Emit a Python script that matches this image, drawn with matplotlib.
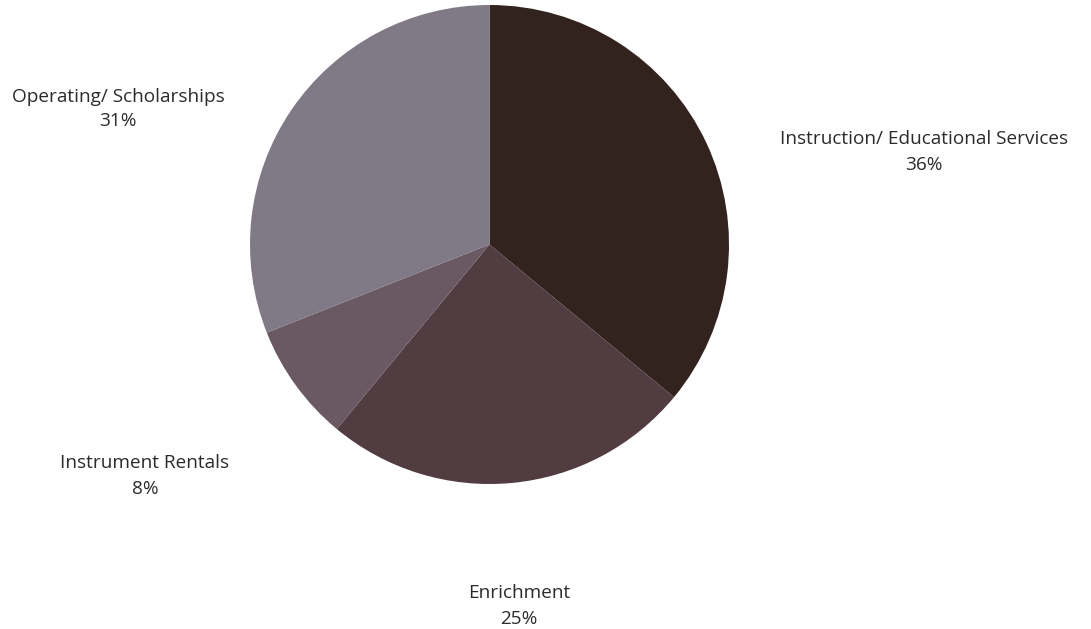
import matplotlib.pyplot as plt

labels = ['Instruction/ Educational Services', 'Enrichment', 'Instrument Rentals', 'Operating/ Scholarships']
values = [36, 25, 8, 31]
colors = ['#33231f', '#503c41', '#6a5962', '#807a87']
# label centres in pixel coordinates
label_pos = [(924, 152), (519, 606), (145, 476), (118, 109)]

plt.rcParams['font.family'] = ['Open Sans', 'DejaVu Sans']

fig = plt.figure(figsize=(10.91, 6.29), dpi=100)
ax = fig.add_axes([0, 0, 1, 1])

# y axis is flipped below, so counterclock in data runs clockwise on screen
ax.pie(values, colors=colors, startangle=-90, counterclock=True,
       center=(489.5, 244.5), radius=239.5, frame=True,
       wedgeprops={'linewidth': 0})
ax.set_xlim(0, 1091)
ax.set_ylim(629, 0)
ax.set_aspect('equal')
ax.axis('off')

for lab, v, (x, y) in zip(labels, values, label_pos):
    ax.text(x, y, f'{lab}\n{v}%', ha='center', va='center', fontsize=13.7,
            color='#2b2b2b', linespacing=1.5)

fig.savefig('out.png', dpi=100)
